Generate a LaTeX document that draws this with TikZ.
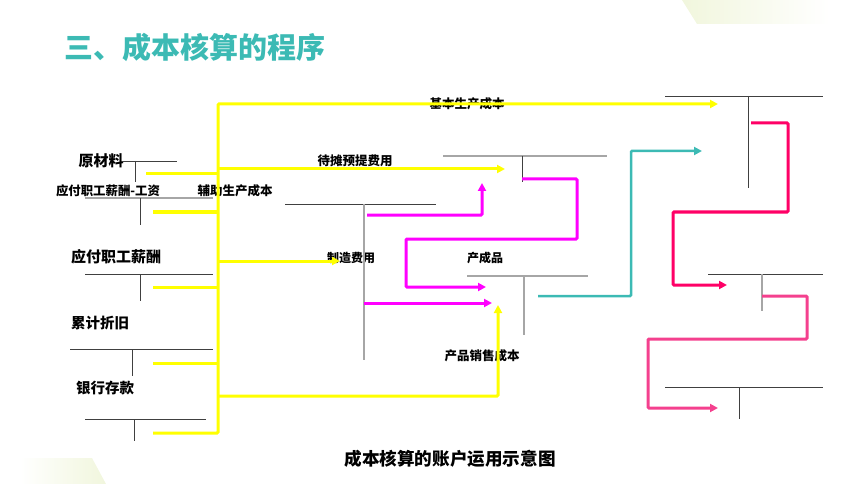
\documentclass[tikz,border=0pt]{standalone}
\usepackage{fontspec}
\setmainfont{Noto Sans CJK SC}
\usetikzlibrary{arrows.meta}
\definecolor{teal1}{HTML}{3CBAB4}
\definecolor{yel}{HTML}{FFFF00}
\definecolor{mag}{HTML}{FF00FF}
\definecolor{crim}{HTML}{FF0066}
\definecolor{pnk}{HTML}{F4408E}
\definecolor{pale}{HTML}{F1F6DD}
\tikzset{
  lbl/.style={inner sep=0pt, font=\bfseries\fontsize{12.5}{14}\selectfont},
  biglbl/.style={inner sep=0pt, font=\bfseries\fontsize{15}{17}\selectfont},
  tdark/.style={draw=black!75, line width=0.8pt},
  tlight/.style={draw=black!35, line width=1.1pt},
  yline/.style={draw=yel, line width=3pt},
  flow/.style={line width=3pt, rounded corners=1pt, -{Triangle[length=8pt,width=8pt]}},
}
\begin{document}
\begin{tikzpicture}[x=1pt,y=-1pt]
  \useasboundingbox (0,0) rectangle (860,484);
  % background corners
  \shade[left color=pale, right color=white, draw=none] (682,0) -- (830,0) -- (830,24) -- (697,24) -- cycle;
  \shade[left color=white, right color=pale, draw=none] (20,484) -- (20,458) -- (92,458) -- (106,484) -- cycle;
  % title and caption
  \node[anchor=west, text=teal1, inner sep=0pt, font=\bfseries\fontsize{29}{32}\selectfont] (title) at (64,47) {三、成本核算的程序};
  \node[inner sep=0pt, font=\bfseries\fontsize{17.6}{20}\selectfont] (caption) at (450,459) {成本核算的账户运用示意图};
  % account labels
  \node[biglbl] (raw) at (101,161) {原材料};
  \node[lbl, font=\bfseries\fontsize{12.4}{14}\selectfont] (wage) at (108,191) {应付职工薪酬-工资};
  \node[biglbl] (pay) at (116,257) {应付职工薪酬};
  \node[biglbl, font=\bfseries\fontsize{14.5}{16}\selectfont] (dep) at (100,323) {累计折旧};
  \node[biglbl, font=\bfseries\fontsize{14.5}{16}\selectfont] (bank) at (105,388) {银行存款};
  \node[lbl] (aux) at (235,191) {辅助生产成本};
  \node[lbl] (prepaid) at (355,161) {待摊预提费用};
  \node[lbl, font=\bfseries\fontsize{12}{14}\selectfont] (mfg) at (351,258) {制造费用};
  \node[lbl, font=\bfseries\fontsize{12}{14}\selectfont] (goods) at (485,258) {产成品};
  \node[lbl] (cogs) at (482,356) {产品销售成本};
  \node[lbl] (basic) at (467,104) {基本生产成本};
  % T accounts
  \draw[tdark] (122,161) -- (177,161) (135,161) -- (135,182);
  \draw[tlight] (85,198) -- (213,198);
  \draw[tdark] (140,198) -- (140,225);
  \draw[tdark] (85,274) -- (213,274) (140,274) -- (140,301);
  \draw[tdark] (70,349) -- (213,349) (132,349) -- (132,376);
  \draw[tdark] (85,419) -- (206,419) (134,419) -- (134,441);
  \draw[tdark] (285,204) -- (436,204);
  \draw[tlight] (364,204) -- (364,360);
  \draw[tlight] (443,156) -- (607,156);
  \draw[tdark] (522,156) -- (522,182);
  \draw[tlight] (467,276) -- (588,276) (524,276) -- (524,335);
  \draw[tdark] (665,96) -- (823,96) (748,96) -- (748,188);
  \draw[tdark] (708,274) -- (823,274);
  \draw[tlight] (762,274) -- (762,311);
  \draw[tdark] (665,387) -- (823,387) (739,387) -- (739,419);
  % connector ends
  \coordinate (raw-out) at (146,174);
  \coordinate (wage-out) at (153,212);
  \coordinate (pay-out) at (153,287);
  \coordinate (dep-out) at (153,363);
  \coordinate (bank-out) at (153,433);
  \coordinate (trunk) at (218,104);
  \coordinate (basic-in) at (718,104);
  \coordinate (prepaid-in) at (505,169);
  \coordinate (mfg-in) at (340,261);
  \coordinate (cogs-in) at (498,305);
  \coordinate (aux-out) at (367,215);
  \coordinate (prepaid-in2) at (482,183);
  \coordinate (prepaid-out) at (522,179);
  \coordinate (goods-in) at (486,287);
  \coordinate (mfg-out) at (364,303);
  \coordinate (goods-in2) at (492,303);
  \coordinate (goods-out) at (538,296);
  \coordinate (basic-in2) at (702,151);
  \coordinate (basic-out) at (751,123);
  \coordinate (right-in) at (727,285);
  \coordinate (right-out) at (762,296);
  \coordinate (last-in) at (718,408);
  % connectors
  \begin{scope}[yline]
    \draw (raw-out) -- (218,174);
    \draw (wage-out) -- (218,212);
    \draw (pay-out) -- (218,287);
    \draw (dep-out) -- (218,363);
    \draw[flow] (bank-out) -| (trunk) -- (basic-in);
    \draw[flow] (218,169) -- (prepaid-in);
    \draw[flow] (218,261) -- (mfg-in);
    \draw[flow] (218,396) -| (cogs-in);
  \end{scope}
  \begin{scope}[draw=mag]
    \draw[flow, mag] (aux-out) -| (prepaid-in2);
    \draw[flow, mag] (prepaid-out) -| (577,239) -| (406,287) -- (goods-in);
    \draw[flow, mag] (mfg-out) -- (goods-in2);
  \end{scope}
  \draw[flow, teal1, line width=2.5pt] (goods-out) -| (631,151) -- (basic-in2);
  \draw[flow, crim] (basic-out) -| (788,212) -| (673,285) -- (right-in);
  \draw[flow, pnk] (right-out) -| (807,339) -| (648,408) -- (last-in);
\end{tikzpicture}
\end{document}
